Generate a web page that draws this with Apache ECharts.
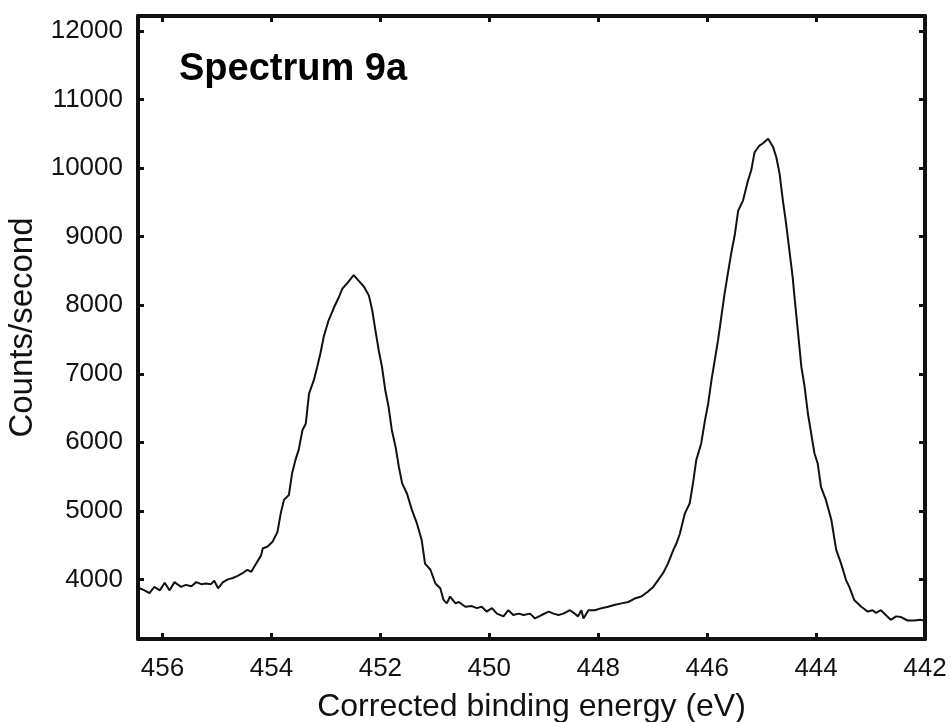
<!DOCTYPE html>
<html>
<head>
<meta charset="utf-8">
<script src="https://cdn.jsdelivr.net/npm/echarts@6/dist/echarts.min.js"></script>
<style>
  html, body { margin: 0; padding: 0; background: #fff; }
  #chart { width: 951px; height: 722px; }
</style>
</head>
<body>
<div id="chart"></div>
<script>
// Spectrum 9a: binding energy (eV) vs counts per second
const energy = [
  456.46, 456.42, 456.33, 456.24, 456.15, 456.05, 455.96, 455.87, 455.78, 455.66,
  455.57, 455.47, 455.38, 455.29, 455.20, 455.11, 455.05, 454.98, 454.89, 454.80,
  454.71, 454.62, 454.53, 454.44, 454.37, 454.28, 454.19, 454.16, 454.07, 453.98,
  453.89, 453.83, 453.77, 453.68, 453.62, 453.56, 453.50, 453.43, 453.37, 453.31,
  453.22, 453.16, 453.10, 453.04, 452.95, 452.85, 452.76, 452.70, 452.61, 452.49,
  452.40, 452.30, 452.21, 452.15, 452.09, 452.03, 451.97, 451.91, 451.85, 451.79,
  451.72, 451.66, 451.60, 451.51, 451.42, 451.33, 451.24, 451.18, 451.08, 450.99,
  450.90, 450.84, 450.78, 450.72, 450.62, 450.56, 450.44, 450.32, 450.23, 450.14,
  450.05, 449.95, 449.86, 449.74, 449.65, 449.56, 449.46, 449.37, 449.25, 449.16,
  449.04, 448.91, 448.82, 448.73, 448.64, 448.52, 448.43, 448.37, 448.31, 448.27,
  448.18, 448.06, 447.94, 447.82, 447.69, 447.57, 447.45, 447.33, 447.21, 447.09,
  446.99, 446.90, 446.81, 446.72, 446.62, 446.56, 446.50, 446.41, 446.32, 446.26,
  446.20, 446.11, 446.04, 445.98, 445.92, 445.86, 445.80, 445.74, 445.68, 445.62,
  445.56, 445.49, 445.43, 445.34, 445.25, 445.19, 445.13, 445.04, 444.98, 444.88,
  444.79, 444.73, 444.67, 444.61, 444.55, 444.49, 444.43, 444.39, 444.33, 444.27,
  444.21, 444.15, 444.09, 444.03, 443.97, 443.91, 443.82, 443.72, 443.63, 443.54,
  443.45, 443.39, 443.30, 443.17, 443.05, 442.96, 442.90, 442.81, 442.72, 442.63,
  442.53, 442.44, 442.32, 442.19, 442.09, 442.02
];
const counts = [
  3860, 3870, 3840, 3800, 3890, 3840, 3950, 3840, 3960, 3890,
  3920, 3900, 3960, 3930, 3940, 3930, 3980, 3870, 3960, 4000,
  4020, 4050, 4090, 4140, 4110, 4230, 4350, 4450, 4480, 4550,
  4690, 4960, 5160, 5230, 5550, 5740, 5890, 6180, 6270, 6710,
  6910, 7100, 7300, 7540, 7780, 7970, 8120, 8240, 8320, 8440,
  8360, 8270, 8140, 7930, 7630, 7340, 7100, 6760, 6520, 6180,
  5930, 5640, 5400, 5250, 5010, 4820, 4570, 4230, 4140, 3940,
  3870, 3700, 3650, 3750, 3650, 3670, 3600, 3610, 3580, 3600,
  3530, 3580, 3500, 3460, 3550, 3480, 3500, 3480, 3500, 3430,
  3480, 3530, 3500, 3480, 3500, 3550, 3500, 3460, 3550, 3430,
  3550, 3550, 3580, 3600, 3630, 3650, 3670, 3720, 3750, 3820,
  3890, 3990, 4090, 4230, 4430, 4530, 4670, 4960, 5110, 5400,
  5740, 5980, 6320, 6570, 6910, 7200, 7490, 7830, 8170, 8460,
  8750, 9040, 9380, 9530, 9820, 9970, 10230, 10330, 10360, 10430,
  10310, 10160, 9920, 9530, 9190, 8800, 8410, 8070, 7590, 7100,
  6810, 6420, 6130, 5840, 5690, 5350, 5160, 4870, 4430, 4230,
  3990, 3890, 3700, 3600, 3530, 3550, 3510, 3550, 3480, 3410,
  3460, 3450, 3400, 3400, 3410, 3400
];
const xTicks = [442, 444, 446, 448, 450, 452, 454, 456];
const yTicks = [4000, 5000, 6000, 7000, 8000, 9000, 10000, 11000, 12000];

const X_MIN = 442, X_MAX = 456.45;
const Y_MIN = 3130, Y_MAX = 12220;

const FONT = 'Liberation Sans, Arial, Helvetica, sans-serif';
const frameLine = { show: true, onZero: false, lineStyle: { color: '#111', width: 4 } };
const inTick = (vals) => ({
  show: true, inside: true, length: 6,
  customValues: vals,
  lineStyle: { color: '#111', width: 3 }
});
const plain = (v) => String(v);

const points = energy.map((e, i) => [e, counts[i]]);

const chart = echarts.init(document.getElementById('chart'), null, { renderer: 'canvas' });
chart.setOption({
  animation: false,
  backgroundColor: '#ffffff',
  title: {
    text: 'Spectrum 9a',
    left: 174, top: 46,
    textStyle: { fontFamily: FONT, fontWeight: 'bold', fontSize: 38, color: '#000' }
  },
  grid: { left: 138, right: 26, top: 16, bottom: 83, containLabel: false, outerBoundsMode: 'none' },
  xAxis: [
    {
      type: 'value', inverse: true, min: X_MIN, max: X_MAX, position: 'bottom',
      name: 'Corrected binding energy (eV)', nameLocation: 'middle', nameGap: 52,
      nameTextStyle: { fontFamily: FONT, fontSize: 32, color: '#111' },
      axisLine: frameLine, axisTick: inTick(xTicks),
      axisLabel: { customValues: xTicks, formatter: plain, margin: 17, fontFamily: FONT, fontSize: 26, color: '#111' },
      splitLine: { show: false }
    },
    {
      type: 'value', inverse: true, min: X_MIN, max: X_MAX, position: 'top',
      axisLine: frameLine, axisTick: inTick(xTicks),
      axisLabel: { show: false }, splitLine: { show: false }
    }
  ],
  yAxis: [
    {
      type: 'value', min: Y_MIN, max: Y_MAX, position: 'left',
      name: 'Counts/second', nameLocation: 'middle', nameGap: 96, nameRotate: 90,
      nameTextStyle: { fontFamily: FONT, fontSize: 33, color: '#111' },
      axisLine: frameLine, axisTick: inTick(yTicks),
      axisLabel: { customValues: yTicks, formatter: plain, margin: 15, fontFamily: FONT, fontSize: 26, color: '#111' },
      splitLine: { show: false }
    },
    {
      type: 'value', min: Y_MIN, max: Y_MAX, position: 'right',
      axisLine: frameLine, axisTick: inTick(yTicks),
      axisLabel: { show: false }, splitLine: { show: false }
    }
  ],
  series: [{
    type: 'line',
    data: points,
    xAxisIndex: 0, yAxisIndex: 0,
    showSymbol: false, symbol: 'none',
    lineStyle: { color: '#111', width: 2 },
    silent: true
  }]
});
</script>
</body>
</html>
